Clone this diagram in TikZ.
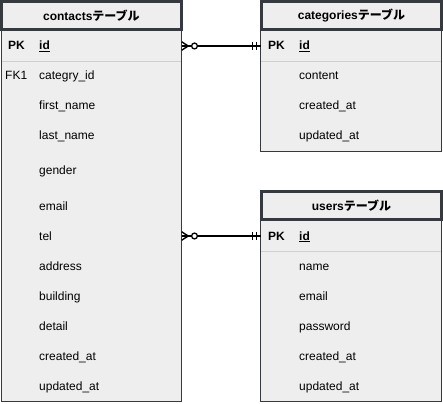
\documentclass[tikz,border=0pt]{standalone}
\usepackage{fontspec}
\setmainfont{Liberation Sans}
\newfontfamily\jpfont{Noto Sans CJK JP}
\usetikzlibrary{calc}
\definecolor{tblfill}{HTML}{EEEEEE}
\definecolor{tbldraw}{HTML}{36393D}
\definecolor{sepgray}{HTML}{CFCFCF}
\newcommand{\jp}[1]{{\jpfont #1}}
\tikzset{
  hdr/.style={draw=tbldraw, fill=tblfill, line width=3pt, inner sep=0pt,
    minimum width=180pt, minimum height=28pt, font=\fontsize{12}{14}\selectfont\bfseries},
  tblbody/.style={draw=tbldraw, fill=tblfill, line width=1pt},
  colname/.style={anchor=base west, inner sep=0pt, font=\fontsize{12}{14}\selectfont},
  keycol/.style={colname, font=\fontsize{12}{14}\selectfont\bfseries},
  rowfield/.style={inner sep=0pt, minimum width=180.5pt, minimum height=30pt},
  sep/.style={draw=sepgray, line width=0.8pt},
  rel/.style={draw=black, line width=1.4pt},
}
\begin{document}
\begin{tikzpicture}[x=1pt,y=-1pt]
\useasboundingbox (0,0) rectangle (443,403);
% ---------- contacts ----------
\draw[tblbody] (1,30) rectangle (181.5,401.5);
\draw[sep] (1.5,61) -- (181,61);
\node[hdr] (contacts) at (91.4,15.5) {contacts\jp{テーブル}};
\node[rowfield] (contacts-id) at (91.25,46) {};
\node[rowfield] (contacts-tel) at (91.25,236) {};
\node[keycol] (cpk) at (8,50) {PK};
\node[keycol] (c1) at (39,50) {\underline{id}};
\node[colname] (cfk) at (5,80) {FK1};
\node[colname] (c2) at (39,80) {categry\_id};
\node[colname] (c3) at (39,110) {first\_name};
\node[colname] (c4) at (39,140) {last\_name};
\node[colname] (c5) at (39,175) {gender};
\node[colname] (c6) at (39,210) {email};
\node[colname] (c7) at (39,240) {tel};
\node[colname] (c8) at (39,270) {address};
\node[colname] (c9) at (39,300) {building};
\node[colname] (c10) at (39,330) {detail};
\node[colname] (c11) at (39,360) {created\_at};
\node[colname] (c12) at (39,390) {updated\_at};
% ---------- categories ----------
\draw[tblbody] (260.8,30) rectangle (441.5,151.5);
\draw[sep] (261.3,61) -- (441,61);
\node[hdr] (categories) at (351.5,15.5) {categories\jp{テーブル}};
\node[rowfield] (categories-id) at (351.15,46) {};
\node[keycol] (kpk) at (268,50) {PK};
\node[keycol] (k1) at (299,50) {\underline{id}};
\node[colname] (k2) at (299,80) {content};
\node[colname] (k3) at (299,110) {created\_at};
\node[colname] (k4) at (299,140) {updated\_at};
% ---------- users ----------
\draw[tblbody] (260.8,220) rectangle (441.5,401.5);
\draw[sep] (261.3,251) -- (441,251);
\node[hdr] (users) at (351.5,205.5) {users\jp{テーブル}};
\node[rowfield] (users-id) at (351.15,236) {};
\node[keycol] (upk) at (268,240) {PK};
\node[keycol] (u1) at (299,240) {\underline{id}};
\node[colname] (u2) at (299,270) {name};
\node[colname] (u3) at (299,300) {email};
\node[colname] (u4) at (299,330) {password};
\node[colname] (u5) at (299,360) {created\_at};
\node[colname] (u6) at (299,390) {updated\_at};
% ---------- relations ----------
\foreach \src/\dst in {contacts-id/categories-id, contacts-tel/users-id}{
  \draw[rel] ($(\src.east)+(6.5,0)$) -- (\dst.west);
  \draw[rel] ($(\src.east)+(0,-4.2)$) -- ($(\src.east)+(6.5,0)$) -- ($(\src.east)+(0,4.2)$);
  \draw[rel] (\src.east) -- ($(\src.east)+(6.5,0)$);
  \draw[rel, line width=1.3pt, fill=white] ($(\src.east)+(12.8,0)$) circle[radius=2.9pt];
  \draw[rel] ($(\dst.west)+(-8,-4.2)$) -- ($(\dst.west)+(-8,4.2)$);
  \draw[rel] ($(\dst.west)+(-4,-4.2)$) -- ($(\dst.west)+(-4,4.2)$);
}
\end{tikzpicture}
\end{document}
